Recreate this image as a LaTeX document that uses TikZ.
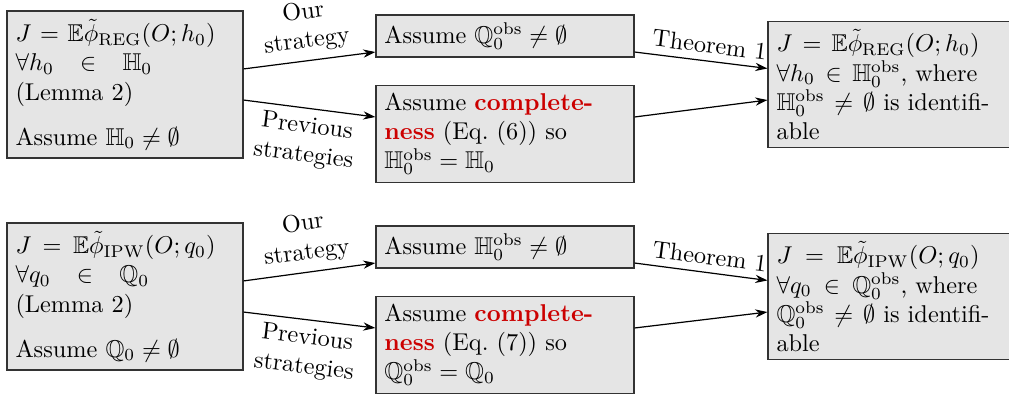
\documentclass[tikz,border=0pt]{standalone}
\usepackage{amsmath,amssymb}
\usetikzlibrary{arrows.meta}
\definecolor{cred}{RGB}{204,0,0}
\begin{document}
\begin{tikzpicture}[x=0.4115pt,y=-0.4115pt,
  box/.style={draw=black!80, line width=0.5pt, fill=gray!20, rectangle,
    inner xsep=3.5pt, inner ysep=3pt, align=left},
  arr/.style={-{Stealth[length=5pt,width=3.4pt]}, line width=0.5pt},
  lbl/.style={sloped, align=center, inner sep=3pt}]
\useasboundingbox (0,0) rectangle (1009,394);
\clip (0,0) rectangle (1009,394);

% ---------- top row ----------
\node[box, text width=90.1pt, minimum height=60.5pt] (A1) at (125,84.5)
 {\makebox[82.3pt][s]{$J = \mathbb{E}\tilde{\phi}_{\mathrm{REG}}(O;h_0)$}\\
  $\forall h_0 \hspace{8pt}\in\hspace{8pt} \mathbb{H}_0$\\
  (Lemma 2)\\[6.5pt]
  Assume $\mathbb{H}_0 \neq \emptyset$};
\node[box, text width=99.2pt, minimum height=17.3pt] (B1) at (505,36)
 {Assume $\mathbb{Q}_0^{\mathrm{obs}} \neq \emptyset$};
\node[box, text width=99.2pt, minimum height=39.5pt] (C1) at (505,134)
 {Assume \textbf{\textcolor{cred}{complete-}}\\
  \textbf{\textcolor{cred}{ness}} (Eq.~(6)) so\\
  $\mathbb{H}_0^{\mathrm{obs}} = \mathbb{H}_0$};
\node[box, text width=94.6pt, minimum height=51.8pt] (D1) at (891.5,84.5)
 {\makebox[83.5pt][s]{$J = \mathbb{E}\tilde{\phi}_{\mathrm{REG}}(O;h_0)$}\\
  \makebox[82.7pt][s]{$\forall h_0 \in \mathbb{H}_0^{\mathrm{obs}}$, where}\\
  \makebox[87.6pt][s]{$\mathbb{H}_0^{\mathrm{obs}} \neq \emptyset$ is identifi-}\\
  able};

\draw[arr] ([yshift=6.4pt]A1.east) -- node[lbl, above] {Our\\strategy} ([yshift=-6.6pt]B1.west);
\draw[arr] ([yshift=-6.4pt]A1.east) -- node[lbl, below] {Previous\\strategies} ([yshift=7pt]C1.west);
\draw[arr] ([yshift=-6.6pt]B1.east) -- node[lbl, above, pos=0.55] {Theorem 1} ([yshift=6.6pt]D1.west);
\draw[arr] ([yshift=7pt]C1.east) -- ([yshift=-6.4pt]D1.west);

% ---------- bottom row ----------
\node[box, text width=90.1pt, minimum height=60.5pt] (A2) at (125,296.5)
 {\makebox[82.3pt][s]{$J = \mathbb{E}\tilde{\phi}_{\mathrm{IPW}}(O;q_0)$}\\
  $\forall q_0 \hspace{8pt}\in\hspace{8pt} \mathbb{Q}_0$\\
  (Lemma 2)\\[6.5pt]
  Assume $\mathbb{Q}_0 \neq \emptyset$};
\node[box, text width=99.2pt, minimum height=17.3pt] (B2) at (505,247)
 {Assume $\mathbb{H}_0^{\mathrm{obs}} \neq \emptyset$};
\node[box, text width=99.2pt, minimum height=39.5pt] (C2) at (505,345)
 {Assume \textbf{\textcolor{cred}{complete-}}\\
  \textbf{\textcolor{cred}{ness}} (Eq.~(7)) so\\
  $\mathbb{Q}_0^{\mathrm{obs}} = \mathbb{Q}_0$};
\node[box, text width=94.6pt, minimum height=51.8pt] (D2) at (891.5,296.5)
 {\makebox[83.5pt][s]{$J = \mathbb{E}\tilde{\phi}_{\mathrm{IPW}}(O;q_0)$}\\
  \makebox[82.7pt][s]{$\forall q_0 \in \mathbb{Q}_0^{\mathrm{obs}}$, where}\\
  \makebox[87.6pt][s]{$\mathbb{Q}_0^{\mathrm{obs}} \neq \emptyset$ is identifi-}\\
  able};

\draw[arr] ([yshift=6.4pt]A2.east) -- node[lbl, above] {Our\\strategy} ([yshift=-6.6pt]B2.west);
\draw[arr] ([yshift=-6.4pt]A2.east) -- node[lbl, below] {Previous\\strategies} ([yshift=7pt]C2.west);
\draw[arr] ([yshift=-6.6pt]B2.east) -- node[lbl, above, pos=0.55] {Theorem 1} ([yshift=6.6pt]D2.west);
\draw[arr] ([yshift=7pt]C2.east) -- ([yshift=-6.4pt]D2.west);
\end{tikzpicture}
\end{document}
